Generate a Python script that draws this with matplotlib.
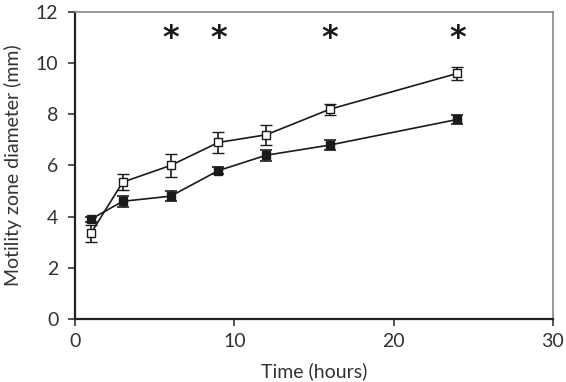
#!/usr/bin/env python3
"""Motility zone diameter over time, two strains with error bars."""

import matplotlib
matplotlib.use("Agg")
import matplotlib.pyplot as plt

# time points (hours)
time_h = [1, 3, 6, 9, 12, 16, 24]

# filled squares
filled_mean = [3.9, 4.6, 4.8, 5.8, 6.4, 6.8, 7.8]
filled_err = [0.1, 0.22, 0.2, 0.15, 0.22, 0.2, 0.18]

# open squares
open_mean = [3.35, 5.35, 6.0, 6.9, 7.2, 8.2, 9.6]
open_err = [0.33, 0.3, 0.45, 0.4, 0.38, 0.22, 0.24]

# significance markers
star_times = [6, 9, 16, 24]
star_y = 10.95

plt.rcParams["font.family"] = ["Lato", "DejaVu Sans"]

fig = plt.figure(figsize=(5.66, 3.82), dpi=100)
ax = fig.add_axes([0.1325, 0.165, 0.8445, 0.8036])

ax.errorbar(time_h, filled_mean, yerr=filled_err, color="#1a1a1a",
            marker="s", markersize=6.3, markerfacecolor="#1a1a1a",
            markeredgecolor="#1a1a1a", linewidth=1.2, elinewidth=1.2,
            capsize=4.5, capthick=1.2, zorder=3)
ax.errorbar(time_h, open_mean, yerr=open_err, color="#1a1a1a",
            marker="s", markersize=6.3, markerfacecolor="white",
            markeredgecolor="#1a1a1a", markeredgewidth=1.0,
            linewidth=1.2, elinewidth=1.2, capsize=4.5, capthick=1.2, zorder=3)

for t in star_times:
    ax.text(t, star_y, "*", ha="center", va="center", fontsize=23,
            fontweight="bold", family="DejaVu Sans", color="#1a1a1a")

ax.set_xlim(0, 30)
ax.set_ylim(0, 12)
ax.set_xticks([0, 10, 20, 30])
ax.set_yticks([0, 2, 4, 6, 8, 10, 12])
ax.set_xlabel("Time (hours)", fontsize=14, color="#333333", labelpad=9)
ax.set_ylabel("Motility zone diameter (mm)", fontsize=14, color="#333333",
              labelpad=10)

ax.tick_params(axis="both", labelsize=14, colors="#333333", direction="out",
               length=5, width=1.2)
ax.tick_params(axis="y", pad=7)
ax.tick_params(axis="x", pad=5)

for side in ("left", "bottom"):
    ax.spines[side].set_color("#222222")
    ax.spines[side].set_linewidth(1.6)
for side in ("top", "right"):
    ax.spines[side].set_color("#888888")
    ax.spines[side].set_linewidth(1.2)

fig.savefig("out.png", dpi=100)
